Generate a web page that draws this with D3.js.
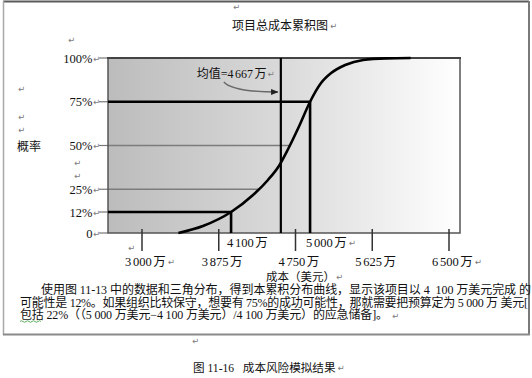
<!DOCTYPE html>
<html><head><meta charset="utf-8">
<script src="https://cdn.jsdelivr.net/npm/d3@7"></script>
<style>body{margin:0;background:#fff}svg{display:block}text{white-space:pre}</style>
</head><body><svg id="c" width="532" height="378"></svg>
<script>
// ---- data ----
const chartTitle = "项目总成本累积图";
const yAxisTitle = "概率";
const xAxisTitle = "成本（美元）";
const probTicks = [100, 75, 50, 25, 12, 0];
const probTickLabels = ["100%", "75%", "50%", "25%", "12%", "0"];
const costTicks = [3000, 3875, 4750, 5625, 6500];
const costTickLabels = ["3 000 万", "3 875 万", "4 750 万", "5 625 万", "6 500 万"];
const curveCost = [3500, 3780, 4100, 4350, 4520, 4645, 4750, 4875, 5000, 5125, 5240, 5400, 5605, 5865, 6145];
const curveProb = [0, 4, 12, 21.7, 30.3, 38.3, 48, 61, 75, 85.7, 91.4, 96, 98.9, 99.8, 100];
const meanCost = 4667;
const meanLabel = "均值=4 667 万";
const markCost = [4100, 5000];
const markProb = [12, 75];
const markLabels = ["4 100 万", "5 000 万"];
const gridProb = [50, 25];
const paragraphLines = [
  "使用图 11-13 中的数据和三角分布，得到本累积分布曲线，显示该项目以 4  100 万美元完成 的",
  "可能性是 12%。如果组织比较保守，想要有 75%的成功可能性，那就需要把预算定为 5 000 万 美元[",
  "包括 22%（（5 000 万美元−4 100 万美元）/4 100 万美元）的应急储备]。"
];
const captionText = "图 11-16   成本风险模拟结果";

// ---- layout ----
const svg = d3.select("#c");
const P = {l: 108, r: 460, t: 58, b: 233};
const serif = "'Liberation Serif','Noto Sans CJK SC',serif";
const cjk = "'Noto Sans CJK SC','Liberation Serif',sans-serif";
const x = d3.scaleLinear().domain([2698, 6708]).range([P.l, P.r]);
const xTick = d3.scaleLinear().domain([3000, 6500]).range([142, 449]);
const y = d3.scaleLinear().domain([0, 100]).range([P.b, P.t]);
const curvePts = curveCost.map((c, i) => [c, curveProb[i]]);
const costAt = p => {
  for (let i = 1; i < curvePts.length; i++) {
    if (curvePts[i][1] >= p) {
      const [c0, p0] = curvePts[i - 1], [c1, p1] = curvePts[i];
      return c0 + (c1 - c0) * (p - p0) / (p1 - p0);
    }
  }
  return curveCost[curveCost.length - 1];
};

function ret(xp, yp) {
  svg.append("text").attr("x", xp).attr("y", yp + 3.5).attr("font-family", "'DejaVu Sans'")
    .attr("font-size", 8.5).attr("fill", "#7a7a7a").text("↵");
}
// appends a paragraph mark as part of the same text element
function addRet(sel, dx) {
  sel.append("tspan").attr("dx", dx || 1).attr("dy", -1).attr("font-family", "'DejaVu Sans'")
    .attr("font-size", 8.5).attr("fill", "#7a7a7a").style("word-spacing", "0px").text("↵");
}

// outer box
const box = svg.append("g");
box.append("line").attr("x1", 3).attr("x2", 529).attr("y1", 1.5).attr("y2", 1.5).attr("stroke", "#5a5a5a").attr("stroke-width", 2);
box.append("line").attr("x1", 3.5).attr("x2", 3.5).attr("y1", 1).attr("y2", 335).attr("stroke", "#a8a8a8").attr("stroke-width", 1.5);
box.append("line").attr("x1", 529).attr("x2", 529).attr("y1", 1).attr("y2", 335).attr("stroke", "#7a7a7a").attr("stroke-width", 2);
box.append("line").attr("x1", 3).attr("x2", 530).attr("y1", 334.5).attr("y2", 334.5).attr("stroke", "#8a8a8a").attr("stroke-width", 2);

// gradient background
const defs = svg.append("defs");
const g = defs.append("linearGradient").attr("id", "bg").attr("x1", "0").attr("x2", "1").attr("y1", "0").attr("y2", "0");
g.append("stop").attr("offset", "0").attr("stop-color", "#bcbcbc");
g.append("stop").attr("offset", "0.5").attr("stop-color", "#dadada");
g.append("stop").attr("offset", "1").attr("stop-color", "#ffffff");
defs.append("marker").attr("id", "ah").attr("viewBox", "0 0 10 10").attr("refX", 9).attr("refY", 5)
  .attr("markerWidth", 5).attr("markerHeight", 5).attr("orient", "auto")
  .append("path").attr("d", "M0,1L10,5L0,9Z").attr("fill", "#222");

svg.append("rect").attr("x", P.l).attr("y", P.t).attr("width", P.r - P.l).attr("height", P.b - P.t)
  .attr("fill", "url(#bg)");

// label stubs
svg.selectAll(".stub").data(probTicks).join("line")
  .attr("x1", 99).attr("x2", P.l).attr("y1", d => y(d)).attr("y2", d => y(d))
  .attr("stroke", "#777").attr("stroke-width", 1.2);
// gridlines to curve
svg.selectAll(".grid").data(gridProb).join("line")
  .attr("x1", P.l).attr("x2", d => x(costAt(d))).attr("y1", d => y(d)).attr("y2", d => y(d))
  .attr("stroke", "#7c7c7c").attr("stroke-width", 1.3);

// plot border
svg.append("rect").attr("x", P.l).attr("y", P.t).attr("width", P.r - P.l).attr("height", P.b - P.t)
  .attr("fill", "none").attr("stroke", "#555").attr("stroke-width", 1.5);
svg.append("line").attr("x1", P.l - 1).attr("x2", P.r + 1).attr("y1", P.t).attr("y2", P.t).attr("stroke", "#444").attr("stroke-width", 2);

// x ticks
svg.selectAll(".xt").data(costTicks).join("line")
  .attr("x1", d => xTick(d)).attr("x2", d => xTick(d)).attr("y1", 229).attr("y2", 251)
  .attr("stroke", "#333").attr("stroke-width", 1.5);

// marks (12%, 75%)
svg.selectAll(".mk").data(markCost).join("path")
  .attr("d", (d, i) => `M${P.l},${y(markProb[i])}H${x(d)}V${y(0)}`)
  .attr("fill", "none").attr("stroke", "#000").attr("stroke-width", 2.6);
// mean line
svg.append("line").attr("x1", x(meanCost)).attr("x2", x(meanCost)).attr("y1", y(100)).attr("y2", y(0))
  .attr("stroke", "#000").attr("stroke-width", 2.2);

// curve
svg.append("path").datum(curvePts)
  .attr("d", d3.line().x(d => x(d[0])).y(d => y(d[1])).curve(d3.curveMonotoneX))
  .attr("fill", "none").attr("stroke", "#000").attr("stroke-width", 2.6);

// annotation
const mx = x(meanCost);
svg.append("path").attr("d", `M${mx - 57},${82} Q${mx - 48},${92} ${mx - 3},${92}`)
  .attr("fill", "none").attr("stroke", "#6a6a6a").attr("stroke-width", 1.5).attr("marker-end", "url(#ah)");
const ml = svg.append("text").attr("x", mx - 84).attr("y", 78).attr("font-family", serif).attr("font-size", 12)
  .attr("fill", "#111");
ml.append("tspan").style("word-spacing", "-1.5px").text(meanLabel);
addRet(ml);

// y labels
svg.selectAll(".yl").data(probTickLabels).join("text")
  .attr("x", 100).attr("y", (d, i) => y(probTicks[i]) + 4.5).attr("text-anchor", "end")
  .attr("font-family", serif).attr("font-size", 12.5).attr("fill", "#111")
  .each(function (d) { const t = d3.select(this); t.append("tspan").text(d); addRet(t, 0.5); });

// x labels
svg.selectAll(".xl").data(costTickLabels).join("text")
  .attr("x", (d, i) => xTick(costTicks[i]) - 17).attr("y", 266)
  .attr("font-family", serif).attr("font-size", 12.5).attr("fill", "#111")
  .each(function (d, i) {
    const t = d3.select(this); t.append("tspan").style("word-spacing", "-1.5px").text(d);
    if (i === 0 || i === costTickLabels.length - 1) addRet(t, 2);
  });

svg.selectAll(".ml").data(markLabels).join("text")
  .attr("x", (d, i) => x(markCost[i]) - 4).attr("y", 247)
  .attr("font-family", serif).attr("font-size", 12.5).attr("fill", "#111")
  .each(function (d, i) {
    const t = d3.select(this); t.append("tspan").style("word-spacing", "-1.5px").text(d);
    if (i === 1) addRet(t, 2);
  });

// titles
const tt = svg.append("text").attr("x", 232).attr("y", 29.5).attr("font-family", cjk).attr("font-size", 12)
  .attr("fill", "#111");
tt.append("tspan").text(chartTitle); addRet(tt, 2);
svg.append("text").attr("x", 17).attr("y", 151).attr("font-family", cjk).attr("font-size", 12)
  .attr("fill", "#111").text(yAxisTitle);
const xt = svg.append("text").attr("x", 266).attr("y", 281).attr("font-family", serif).attr("font-size", 11.5)
  .attr("fill", "#111");
xt.append("tspan").text(xAxisTitle); addRet(xt, 1);

// stray paragraph marks
[[233, 6], [68, 39], [18, 88], [18, 116], [18, 129], [74, 162], [74, 175], [128, 247], [192, 340]]
  .forEach(([a, b]) => ret(a, b));

// paragraph
const paraX = [41, 20, 20], paraY = [294, 306.5, 319], paraW = [490, 508, 368];
svg.selectAll(".para").data(paragraphLines).join("text")
  .attr("x", (d, i) => paraX[i]).attr("y", (d, i) => paraY[i])
  .attr("textLength", (d, i) => paraW[i]).attr("lengthAdjust", "spacing")
  .attr("font-family", serif).attr("font-size", 12).attr("fill", "#111").text(d => d);
ret(392, 315);
svg.append("path").attr("d", "M20,321.5 q1.5,-1.5 3,0 t3,0 t3,0 t3,0 t3,0 t3,0 t3,0")
  .attr("fill", "none").attr("stroke", "#3a9a3a").attr("stroke-width", 0.8);

// caption
const cp = svg.append("text").attr("x", 193).attr("y", 371.5).attr("font-family", serif).attr("font-size", 11.6)
  .attr("fill", "#111");
cp.append("tspan").text(captionText); addRet(cp, 2);
</script></body></html>
